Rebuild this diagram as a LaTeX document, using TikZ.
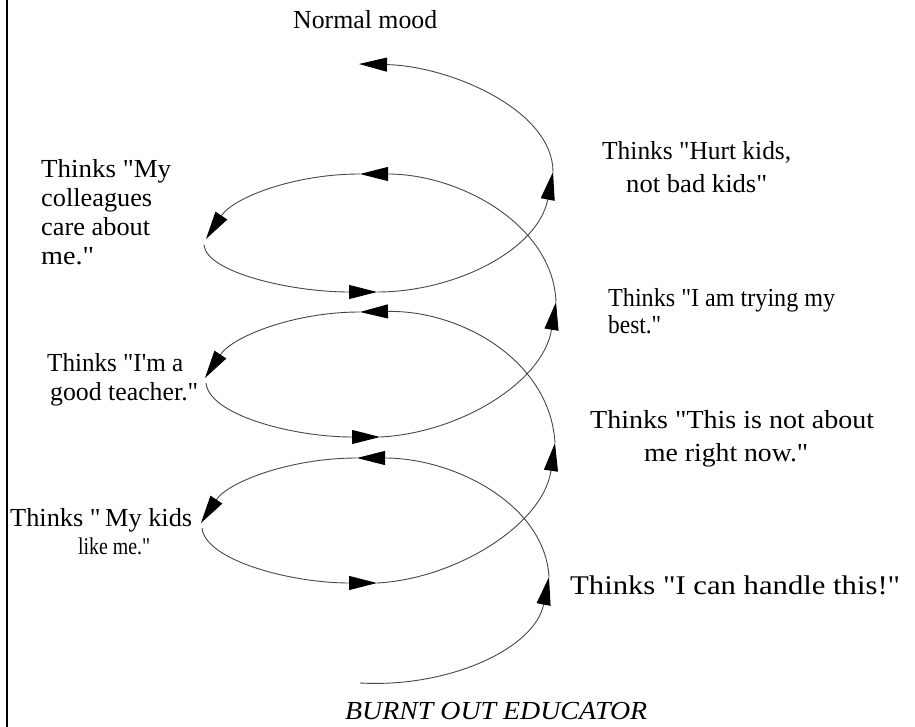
\documentclass[tikz,border=0pt]{standalone}
\usepackage{fontspec}
\setmainfont{Liberation Serif}[Ligatures=TeXOff]
\usetikzlibrary{arrows.meta}
\newcommand{\fitw}[2]{\resizebox{#1pt}{\height}{#2}}
\begin{document}
\begin{tikzpicture}[x=1pt,y=-1pt,
  txt/.style={inner sep=0pt, anchor=base west, font=\fontsize{26}{30}\selectfont},
  arr/.style={draw=black!72, line width=0.9pt, -{Triangle[length=28pt,width=14pt,color=black]}},
  frame/.style={draw=black, line width=2pt}]
\useasboundingbox (0,0) rectangle (915,727);
% left border
\coordinate (ft) at (7,0);
\coordinate (fb) at (7,727);
\draw[frame] (ft) -- (fb);
% spiral points
\coordinate (p0) at (360,683);
\coordinate (p1) at (549,577);
\coordinate (p2) at (357,458);
\coordinate (p3) at (201,523);
\coordinate (p3b) at (202,528);
\coordinate (p4) at (377,583);
\coordinate (p5) at (555,443);
\coordinate (p6) at (360,312);
\coordinate (p7) at (205,378);
\coordinate (p7b) at (206,383);
\coordinate (p8) at (380,437);
\coordinate (p9) at (556,302);
\coordinate (p10) at (360,174);
\coordinate (p11) at (206,239);
\coordinate (p11b) at (204,245);
\coordinate (p12) at (377,292);
\coordinate (p13) at (553,172);
\coordinate (p14) at (359,64);
% spiral segments
\draw[arr] (p0) .. controls (450,688) and (535,648) .. (p1);
\draw[arr] (p1) .. controls (545,505) and (455,458) .. (p2);
\draw[arr] (p2) .. controls (290,458) and (228,482) .. (p3);
\draw[arr] (p3b) .. controls (205,560) and (290,583) .. (p4);
\draw[arr] (p4) .. controls (455,579) and (543,525) .. (p5);
\draw[arr] (p5) .. controls (550,360) and (460,310) .. (p6);
\draw[arr] (p6) .. controls (293,312) and (232,337) .. (p7);
\draw[arr] (p7b) .. controls (209,415) and (293,437) .. (p8);
\draw[arr] (p8) .. controls (460,433) and (543,382) .. (p9);
\draw[arr] (p9) .. controls (553,225) and (460,174) .. (p10);
\draw[arr] (p10) .. controls (293,174) and (233,198) .. (p11);
\draw[arr] (p11b) .. controls (206,272) and (290,292) .. (p12);
\draw[arr] (p12) .. controls (455,292) and (538,250) .. (p13);
\draw[arr] (p13) .. controls (553,110) and (450,66) .. (p14);
% texts
\node[txt] (nm) at (293,29) {\fitw{144}{Normal mood}};
\node[txt] (hk1) at (602,160) {\fitw{189}{Thinks "Hurt kids,}};
\node[txt] (hk2) at (626,193) {\fitw{141}{not bad kids"}};
\node[txt] (mc1) at (41,178) {\fitw{130}{Thinks "My}};
\node[txt] (mc2) at (41,207) {\fitw{111}{colleagues}};
\node[txt] (mc3) at (41,236) {\fitw{109}{care about}};
\node[txt] (mc4) at (41,265) {\fitw{53}{me."}};
\node[txt] (tb1) at (608,306) {\fitw{227}{Thinks "I am trying my}};
\node[txt] (tb2) at (608,333) {\fitw{53}{best."}};
\node[txt] (gt1) at (47,371) {\fitw{136}{Thinks "I'm a}};
\node[txt] (gt2) at (50,400) {\fitw{148}{good teacher."}};
\node[txt] (na1) at (590,428) {\fitw{284}{Thinks "This is not about}};
\node[txt] (na2) at (644,461) {\fitw{164}{me right now."}};
\node[txt] (mk1) at (10,526) {\fitw{182}{Thinks "\,My kids}};
\node[txt,font=\fontsize{24}{28}\selectfont] (mk2) at (78,554) {\fitw{72}{like me."}};
\node[txt,font=\fontsize{27}{30}\selectfont] (ch) at (570,594) {\fitw{330}{Thinks "I can handle this!"}};
\node[txt,font=\fontsize{26}{30}\selectfont\itshape] (bo) at (345,719) {\fitw{302}{BURNT OUT EDUCATOR}};
\end{tikzpicture}
\end{document}
